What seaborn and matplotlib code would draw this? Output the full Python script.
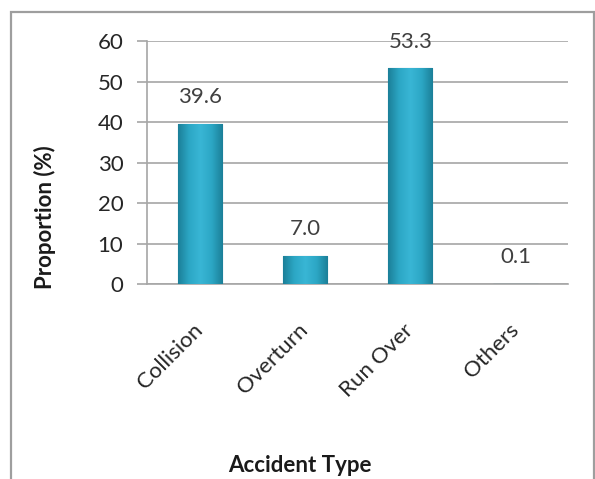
import numpy as np
import pandas as pd
import matplotlib
matplotlib.use("Agg")
import matplotlib.pyplot as plt
from matplotlib.patches import Rectangle
from matplotlib.colors import LinearSegmentedColormap
import seaborn as sns

# Accident types and their share of all cases
categories = ["Collision", "Overturn", "Run Over", "Others"]
proportions = [39.6, 7.0, 53.3, 0.1]
y_ticks = [0, 10, 20, 30, 40, 50, 60]

df = pd.DataFrame({"Accident Type": categories, "Proportion (%)": proportions})

sns.set_theme(style="white")
plt.rcParams["font.family"] = ["Lato", "DejaVu Sans"]

fig = plt.figure(figsize=(5.95, 4.79), dpi=100)
ax = fig.add_axes([0.247, 0.407, 0.708, 0.507])

sns.barplot(data=df, x="Accident Type", y="Proportion (%)", ax=ax,
            color="#2ea8c6", width=0.42, saturation=1,
            edgecolor="#1d7d95", linewidth=0.8, zorder=3)

# Shaded fill across each bar: dark edges, lighter middle
shade = LinearSegmentedColormap.from_list(
    "bar_shade", ["#1b7f98", "#2ca7c5", "#39b6d5", "#2ca7c5", "#1b7f98"])
grad = np.linspace(0, 1, 256).reshape(1, -1)
for patch in ax.patches:
    x0, y0 = patch.get_x(), patch.get_y()
    w, h = patch.get_width(), patch.get_height()
    if h <= 0.5:
        continue
    im = ax.imshow(grad, cmap=shade, aspect="auto",
                   extent=[x0, x0 + w, y0, y0 + h], zorder=3.5,
                   interpolation="bicubic")
    im.set_clip_path(patch)

ax.set_xlim(-0.5, 3.5)
ax.set_ylim(0, 60)
ax.set_yticks(y_ticks)
ax.grid(axis="y", color="#a6a6a6", linewidth=1.2, zorder=0)
ax.set_axisbelow(True)

for side in ["top", "right"]:
    ax.spines[side].set_visible(False)
for side in ["left", "bottom"]:
    ax.spines[side].set_color("#a6a6a6")
    ax.spines[side].set_linewidth(1.2)

ax.tick_params(axis="y", which="major", left=True, length=7, width=1.2,
               color="#a6a6a6", labelsize=16, labelcolor="#262626", pad=10)
ax.tick_params(axis="x", bottom=False, labelsize=16, labelcolor="#262626", pad=25)
for lbl in ax.get_xticklabels():
    lbl.set_rotation(45)
    lbl.set_ha("right")
    lbl.set_va("center")
    lbl.set_rotation_mode("anchor")

# Value labels above each bar
for i, v in enumerate(proportions):
    ax.annotate(f"{v:.1f}", xy=(i, v), xytext=(0, 19), textcoords="offset points",
                ha="center", va="center", fontsize=16, color="#404040")

ax.set_xlabel("")
ax.set_ylabel("")
fig.text(300 / 595, 1 - 465 / 479, "Accident Type", fontsize=16,
         fontweight="bold", color="#1a1a1a", ha="center", va="center")
fig.text(45 / 595, 1 - 217 / 479, "Proportion (%)", fontsize=16,
         fontweight="bold", color="#1a1a1a", ha="center", va="center",
         rotation=90)

# Chart area border
fig.patches.append(Rectangle((11 / 595, -0.05), 583 / 595, 1.05 - 12 / 479,
                             transform=fig.transFigure, fill=False,
                             edgecolor="#9e9e9e", linewidth=1.6))

fig.savefig("out.png", dpi=100, facecolor="white")
